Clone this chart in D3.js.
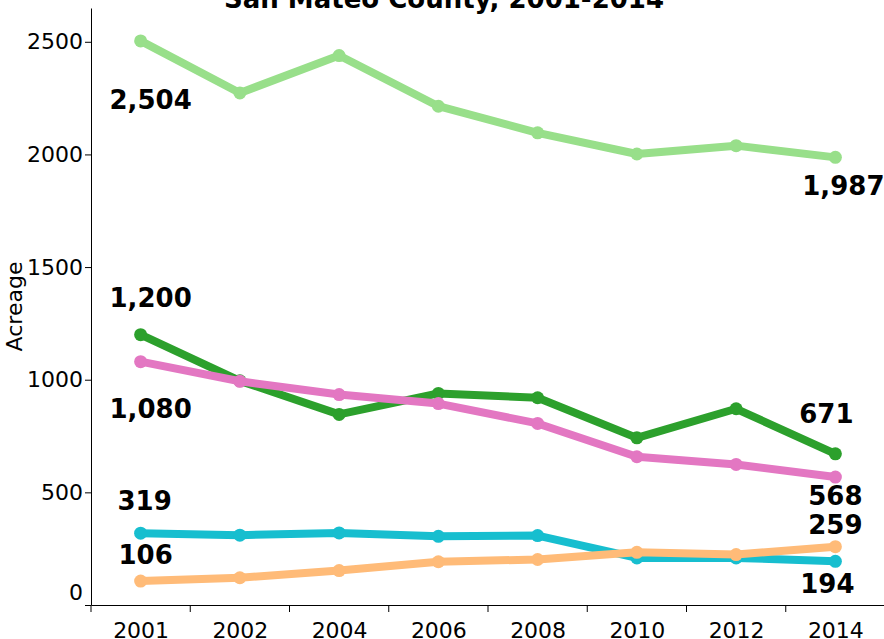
<!DOCTYPE html>
<html>
<head>
<meta charset="utf-8">
<script src="https://cdn.jsdelivr.net/npm/d3@7"></script>
<style>
  body { margin: 0; background: #fff; }
  svg { display: block; font-family: "DejaVu Sans", Verdana, sans-serif; }
  .axis text { font-family: "DejaVu Sans", Verdana, sans-serif; font-size: 22px; fill: #000; }
  .axis path, .axis line { stroke: #000; }
</style>
</head>
<body>
<svg id="chart" width="884" height="639"></svg>
<script>
// Acreage by year, San Mateo County
var years = ["2001", "2002", "2004", "2006", "2008", "2010", "2012", "2014"];

var lightGreen = [2504, 2273, 2439, 2214, 2096, 2002, 2039, 1987];
var darkGreen  = [1200, 995, 846, 939, 920, 742, 871, 671];
var pink       = [1080, 993, 934, 894, 806, 658, 624, 568];
var cyan       = [319, 310, 320, 305, 308, 209, 209, 194];
var orange     = [106, 121, 153, 192, 202, 234, 224, 259];

var yTicks = [0, 500, 1000, 1500, 2000, 2500];

// drawing order matters: later lines sit on top
var seriesList = [
  {values: lightGreen, color: "#98df8a"},
  {values: darkGreen,  color: "#2ca02c"},
  {values: pink,       color: "#e377c2"},
  {values: cyan,       color: "#17becf"},
  {values: orange,     color: "#ffbb78"}
];

// end labels: which series, which point, nudge from the point
var endLabels = [
  {s: 0, i: 0, dx: 10, dy: 68},
  {s: 0, i: 7, dx: 8, dy: 38},
  {s: 1, i: 0, dx: 10, dy: -28},
  {s: 1, i: 7, dx: -9, dy: -31},
  {s: 2, i: 0, dx: 10, dy: 56},
  {s: 2, i: 7, dx: 0, dy: 28},
  {s: 3, i: 0, dx: 4, dy: -23},
  {s: 3, i: 7, dx: -8, dy: 32},
  {s: 4, i: 0, dx: 5, dy: -17},
  {s: 4, i: 7, dx: 0, dy: -13}
];

var svg = d3.select("#chart");
var plotLeft = 91, plotRight = 885, plotTop = 8, plotBottom = 605;

var x = d3.scalePoint().domain(years).range([plotLeft, plotRight]).padding(0.5);
var y = d3.scaleLinear().domain([0, 2650]).range([plotBottom, plotTop]);

// y axis
var yAxis = svg.append("g")
  .attr("class", "axis")
  .attr("transform", "translate(" + plotLeft + ",0)")
  .call(d3.axisLeft(y).tickValues(yTicks).tickFormat(d3.format("d"))
    .tickSize(6).tickSizeOuter(0).tickPadding(2));
yAxis.selectAll(".tick text").filter(function(d) { return d === 0; }).attr("y", -13);

// x axis: labels at centres, ticks on the band edges
var xAxis = svg.append("g")
  .attr("class", "axis")
  .attr("transform", "translate(0," + plotBottom + ")")
  .call(d3.axisBottom(x).tickSize(0).tickSizeOuter(0).tickPadding(17));

var edges = d3.range(years.length + 1).map(function(k) { return plotLeft + k * x.step(); });
xAxis.selectAll(".edge")
  .data(edges)
  .enter().append("line")
  .attr("class", "edge")
  .attr("x1", function(d) { return d; })
  .attr("x2", function(d) { return d; })
  .attr("y1", 0)
  .attr("y2", 7)
  .attr("stroke", "#000");

svg.append("text")
  .attr("transform", "translate(22," + ((plotTop + plotBottom) / 2) + ") rotate(-90)")
  .attr("text-anchor", "middle")
  .style("font-size", "22px")
  .text("Acreage");

svg.append("text")
  .attr("x", 444)
  .attr("y", 8)
  .attr("text-anchor", "middle")
  .style("font-size", "26px")
  .style("font-weight", "bold")
  .text("San Mateo County, 2001-2014");

var line = d3.line()
  .x(function(d, i) { return x(years[i]); })
  .y(function(d) { return y(d); });

seriesList.forEach(function(s) {
  var g = svg.append("g");
  g.append("path")
    .datum(s.values)
    .attr("d", line)
    .attr("fill", "none")
    .attr("stroke", s.color)
    .attr("stroke-width", 8)
    .attr("stroke-linejoin", "round");
  g.selectAll("circle")
    .data(s.values)
    .enter().append("circle")
    .attr("cx", function(d, i) { return x(years[i]); })
    .attr("cy", function(d) { return y(d); })
    .attr("r", 6.5)
    .attr("fill", s.color);
});

var fmt = d3.format(",");
svg.selectAll(".end-label")
  .data(endLabels)
  .enter().append("text")
  .attr("class", "end-label")
  .attr("x", function(d) { return x(years[d.i]) + d.dx; })
  .attr("y", function(d) { return y(seriesList[d.s].values[d.i]) + d.dy; })
  .attr("text-anchor", "middle")
  .style("font-size", "26px")
  .style("font-weight", "bold")
  .text(function(d) { return fmt(seriesList[d.s].values[d.i]); });
</script>
</body>
</html>
